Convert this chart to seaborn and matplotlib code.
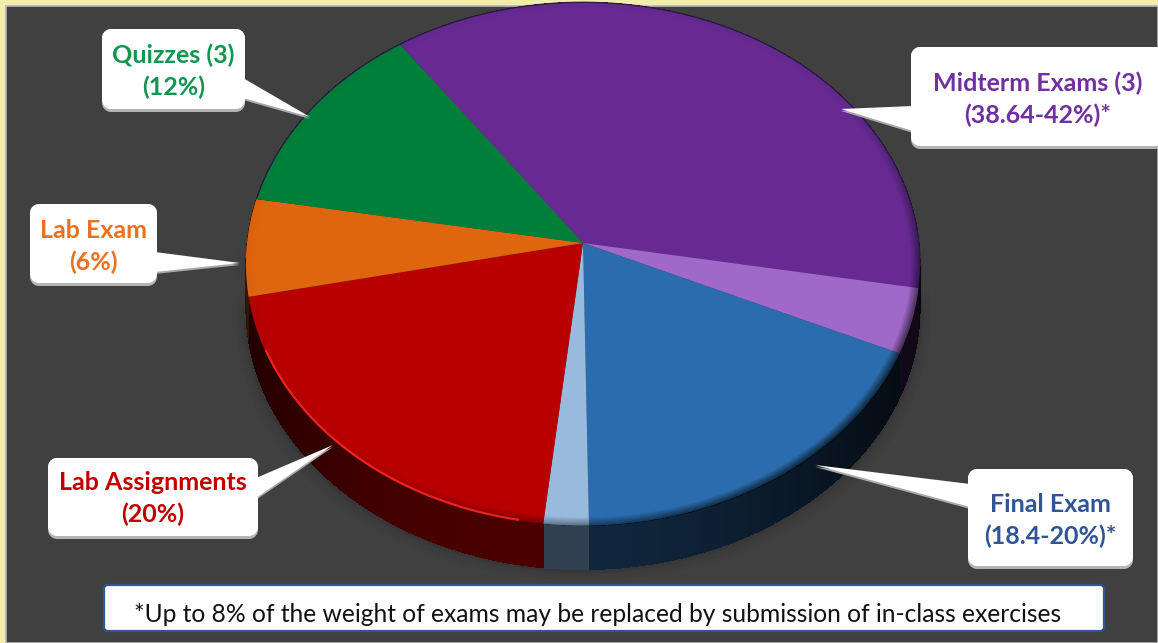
import numpy as np
import seaborn as sns
import matplotlib
matplotlib.use("Agg")
import matplotlib.pyplot as plt
from matplotlib.collections import PolyCollection
from matplotlib.colors import to_rgb
from matplotlib.patches import FancyBboxPatch, Polygon
from matplotlib.transforms import Transform

# %% data
slices = ["Midterm Exams", "Midterm replaceable", "Final Exam", "Final replaceable",
          "Lab Assignments", "Lab Exam", "Quizzes"]
weights = [37.6, 4.0, 18.0, 2.0, 20, 6, 12.4]
top_colors = ["#662a92", "#a068c8", "#2a6cad", "#98bbdd", "#b80000", "#e0650f", "#007f3b"]
side_colors = ["#2d1145", "#3a1f55", "#10263d", "#304050", "#4a0000", "#6a3000", "#003a1c"]
footnote = "*Up to 8% of the weight of exams may be replaced by submission of in-class exercises"

# %% pie geometry in pixels
cx, cy = 583, 243
a, b, k = 336, 260, 0.08
depth = 44


def project(x, y):
    w = 1 + k * y
    return cx + a * x / w, cy - b * y / w


class Tilt(Transform):
    input_dims = output_dims = 2
    is_affine = False
    has_inverse = False

    def transform_non_affine(self, values):
        values = np.asarray(values)
        X, Y = project(values[:, 0], values[:, 1])
        return np.column_stack([X, Y])


sns.set_theme(style="white")
plt.rcParams["font.family"] = ["Lato", "DejaVu Sans"]

fig = plt.figure(figsize=(11.58, 6.43), dpi=100, facecolor="#f3edab")
ax = fig.add_axes([0, 0, 1, 1])

wedges, _ = ax.pie(weights, colors=top_colors, startangle=125.5, counterclock=False,
                   wedgeprops={"linewidth": 0, "zorder": 3})
ax.set_aspect("auto")
ax.set_xlim(0, 1158)
ax.set_ylim(643, 0)
ax.set_frame_on(True)
ax.set_xticks([])
ax.set_yticks([])
for s in ax.spines.values():
    s.set_visible(False)
ax.set_facecolor("none")

# dark panel
ax.add_patch(Polygon([(6, 6), (1158, 6), (1158, 643), (6, 643)], closed=True, fc="#404040",
                     ec="#b8b8b8", lw=1.2, zorder=0))

tilt = Tilt() + ax.transData
for w in wedges:
    w.set_transform(tilt)

# %% side wall, shaded along the rim
quads, quad_colors = [], []
for w, col in zip(wedges, side_colors):
    n = max(int(w.theta2 - w.theta1), 2)
    th = np.radians(np.linspace(w.theta1, w.theta2, n + 1))
    X, Y = project(np.cos(th), np.sin(th))
    base = np.array(to_rgb(col))
    for i in range(len(th) - 1):
        quads.append([(X[i], Y[i]), (X[i + 1], Y[i + 1]),
                      (X[i + 1], Y[i + 1] + depth), (X[i], Y[i] + depth)])
        xpos = (X[i] - cx) / a
        shade = 1 - 0.55 * abs(xpos) ** 3 if xpos < 0 else 1 - 0.75 * xpos ** 1.5
        quad_colors.append(base * shade)
ax.add_collection(PolyCollection(quads, facecolors=quad_colors, edgecolors="none",
                                 antialiaseds=False, zorder=2))

# soft shadow round the wall
th = np.radians(np.linspace(180, 360, 181))
X, Y = project(np.cos(th), np.sin(th))
for grow, al in zip([10, 7, 4, 2], [0.025, 0.03, 0.04, 0.05]):
    ax.fill(np.r_[X, X[::-1]] + np.r_[np.sign(X - cx), np.sign(X[::-1] - cx)] * grow,
            np.r_[Y, Y[::-1] + depth + grow], color="black", alpha=al, lw=0, zorder=1)

# %% darkened rim on the top surface
gx, gy = np.meshgrid(np.arange(0, 1158), np.arange(0, 643))
up = cy - gy
py = up / (b - k * up)
px = (gx - cx) * (1 + k * py) / a
r = np.hypot(px, py)
ang = np.arctan2(py, px)
weight = np.clip(np.cos(ang + np.radians(45)), 0, 1) ** 1.5
alpha = np.clip((r - 0.97) / 0.03, 0, 1) * (0.03 + 0.7 * weight)
alpha[r > 1.0] = 0
shade_img = np.zeros(gx.shape + (4,))
shade_img[..., 3] = alpha
ax.imshow(shade_img, extent=(0, 1158, 643, 0), aspect="auto", zorder=4, interpolation="bilinear")
ax.set_xlim(0, 1158)
ax.set_ylim(643, 0)

# thin outline at the back, highlight on the red rim
th = np.radians(np.linspace(-5, 170, 200))
ax.plot(*project(np.cos(th), np.sin(th)), color="#2a1a40", lw=0.9, zorder=4)
red = wedges[slices.index("Lab Assignments")]
th = np.radians(np.linspace(red.theta1 + 12, red.theta2 - 4, 100))
ax.plot(*project(np.cos(th) * 0.997, np.sin(th) * 0.997), color="#ff2a2a", lw=1.6, alpha=0.8, zorder=4)


# %% callouts
def callout(x0, y0, x1, y1, tail, lines, color, dy=0):
    gray = [(px_, py_ + 2) for px_, py_ in tail]
    ax.add_patch(Polygon(gray, closed=True, fc="#a8a8a8", ec="none", zorder=5))
    ax.add_patch(FancyBboxPatch((x0 + 8, y0 + 8), x1 - x0 - 16, y1 - y0 - 16,
                                boxstyle="round,pad=0,rounding_size=1",
                                fc="#b4b4b4", ec="#b4b4b4", lw=11.5, zorder=5, joinstyle="round"))
    ax.add_patch(FancyBboxPatch((x0 + 8, y0 + 8), x1 - x0 - 16, y1 - y0 - 19,
                                boxstyle="round,pad=0,rounding_size=1",
                                fc="white", ec="white", lw=11.5, zorder=6, joinstyle="round"))
    ax.add_patch(Polygon(tail, closed=True, fc="white", ec="none", zorder=6))
    mid = (x0 + x1) / 2
    ax.text(mid, (y0 + y1) / 2 - 15 + dy, lines[0], color=color, ha="center", va="center",
            fontsize=18, fontweight="bold", zorder=7)
    ax.text(mid, (y0 + y1) / 2 + 17 + dy, lines[1], color=color, ha="center", va="center",
            fontsize=18, fontweight="bold", zorder=7)


callout(102, 29, 245, 112, [(243, 78), (243, 98), (310, 117)], ("Quizzes (3)", "(12%)"), "#0f9650")
callout(30, 204, 157, 286, [(155, 252), (155, 272), (240, 263)], ("Lab Exam", "(6%)"), "#ed7020")
callout(911, 47, 1164, 149, [(913, 106), (913, 131), (841, 109)], ("Midterm Exams (3)", "(38.64-42%)*"), "#7030a0")
callout(48, 458, 258, 539, [(256, 478), (256, 498), (333, 445)], ("Lab Assignments", "(20%)"), "#c00000", dy=-1)
callout(968, 469, 1133, 569, [(970, 484), (970, 507), (815, 465)], ("Final Exam", "(18.4-20%)*"), "#2f5597")

# %% footnote
ax.add_patch(FancyBboxPatch((104, 585), 1000, 46, boxstyle="round,pad=0,rounding_size=4",
                            fc="white", ec="#2f5597", lw=1.6, zorder=6))
ax.text(598, 615, footnote, color="#111111", ha="center", va="center", fontsize=17.75, zorder=7)

fig.savefig("out.png", dpi=100, facecolor=fig.get_facecolor())
